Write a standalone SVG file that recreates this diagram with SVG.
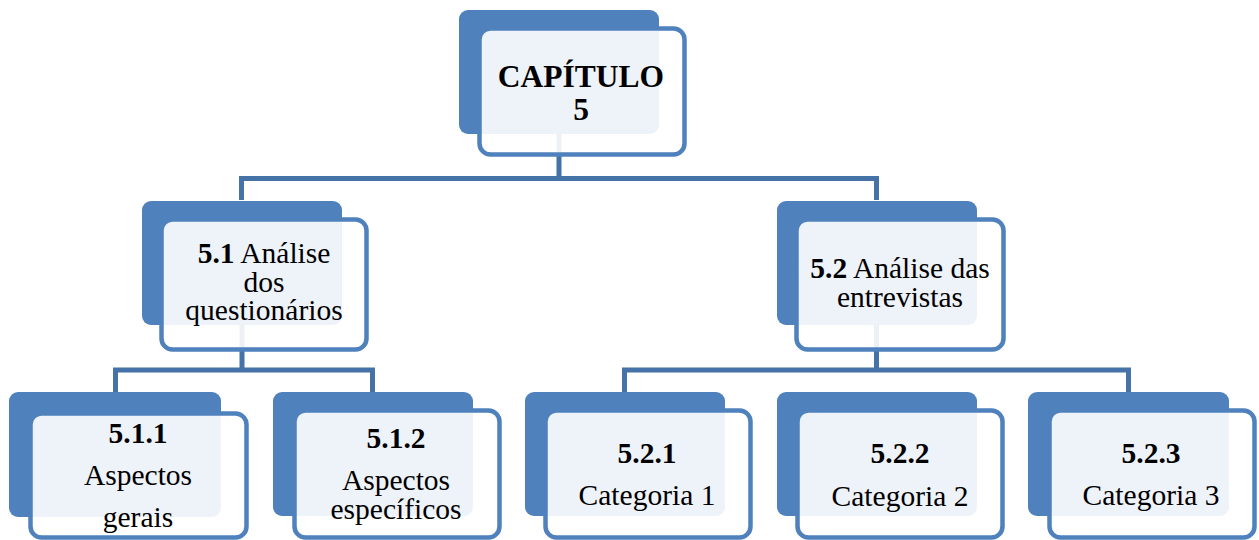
<svg xmlns="http://www.w3.org/2000/svg" width="1259" height="540" viewBox="0 0 1259 540">
<style>
.back{fill:#4F81BD}
.front{fill:#FFFFFF;fill-opacity:0.9;stroke:#4F81BD;stroke-width:4.5}
.conn{fill:none;stroke:#4572A7;stroke-width:5}
text{font-family:"Liberation Serif","Times New Roman",serif;font-size:29.5px;fill:#000;text-anchor:middle}
.b{font-weight:bold}
</style>
<rect width="1259" height="540" fill="#FFFFFF"/>
<g id="connectors">
<path class="conn" d="M559,70 V178.5 M241.5,200 V178.5 H876.5 V200"/>
<path class="conn" d="M242,260 V370 M115.5,392 V370 H372.5 V392"/>
<path class="conn" d="M876.5,260 V370 M624.5,392 V370 H1128.5 V392"/>
</g>
<g id="n-cap5">
<rect class="back" x="459" y="10" width="200" height="124" rx="9"/>
<rect class="front" x="479.5" y="28.5" width="205" height="126" rx="11"/>
<text class="b" x="581" y="87" style="font-size:31.5px">CAPÍTULO</text>
<text class="b" x="581" y="120" style="font-size:31.5px">5</text>
</g>
<g id="n-5-1">
<rect class="back" x="142" y="201" width="200" height="124" rx="9"/>
<rect class="front" x="161.5" y="219.5" width="205" height="130" rx="11"/>
<text x="264" y="263"><tspan class="b">5.1</tspan> Análise</text>
<text x="264" y="292">dos</text>
<text x="264" y="320">questionários</text>
</g>
<g id="n-5-2">
<rect class="back" x="777" y="201" width="200" height="124" rx="9"/>
<rect class="front" x="796.5" y="219.5" width="207" height="130" rx="11"/>
<text x="900" y="278"><tspan class="b">5.2</tspan> Análise das</text>
<text x="900" y="307">entrevistas</text>
</g>
<g id="n-5-1-1">
<rect class="back" x="9" y="392" width="212" height="125" rx="9"/>
<rect class="front" x="30.5" y="413.5" width="216" height="124" rx="11"/>
<text class="b" x="138" y="443">5.1.1</text>
<text x="138" y="485">Aspectos</text>
<text x="138" y="527">gerais</text>
</g>
<g id="n-5-1-2">
<rect class="back" x="273" y="392" width="200" height="124" rx="9"/>
<rect class="front" x="294.5" y="410.5" width="205" height="127" rx="11"/>
<text class="b" x="396" y="448">5.1.2</text>
<text x="396" y="490">Aspectos</text>
<text x="396" y="519">específicos</text>
</g>
<g id="n-5-2-1">
<rect class="back" x="525" y="392" width="200" height="124" rx="9"/>
<rect class="front" x="545.5" y="410.5" width="205" height="127" rx="11"/>
<text class="b" x="647" y="463">5.2.1</text>
<text x="647" y="505">Categoria 1</text>
</g>
<g id="n-5-2-2">
<rect class="back" x="777" y="392" width="200" height="124" rx="9"/>
<rect class="front" x="797.5" y="410.5" width="205" height="127" rx="11"/>
<text class="b" x="900" y="463">5.2.2</text>
<text x="900" y="506">Categoria 2</text>
</g>
<g id="n-5-2-3">
<rect class="back" x="1028" y="392" width="201" height="124" rx="9"/>
<rect class="front" x="1049.5" y="410.5" width="205" height="127" rx="11"/>
<text class="b" x="1151" y="463">5.2.3</text>
<text x="1151" y="505">Categoria 3</text>
</g>
</svg>
